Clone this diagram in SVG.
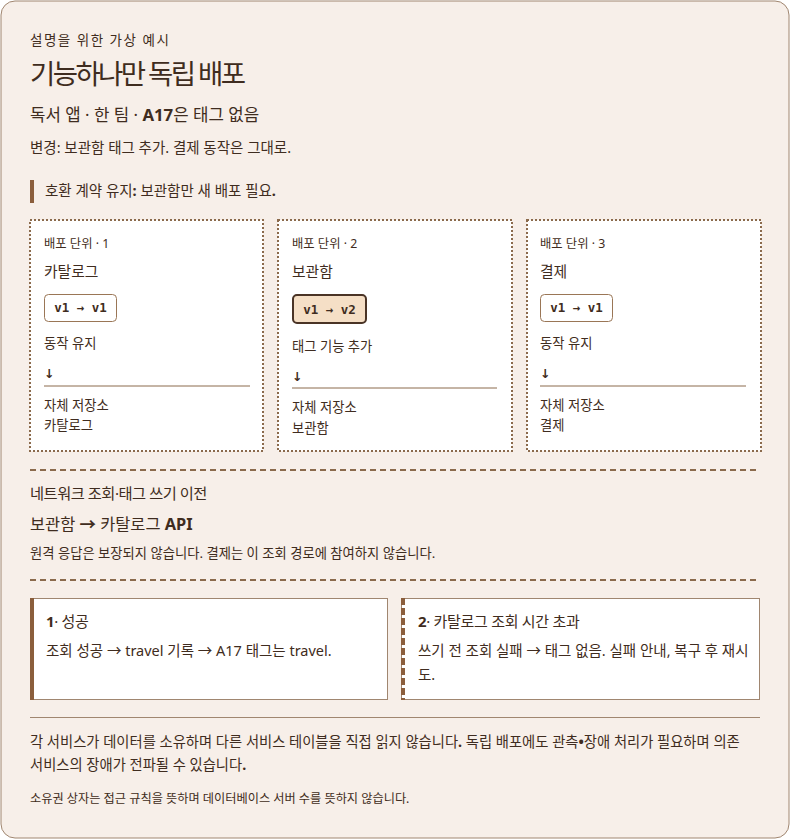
<svg xmlns="http://www.w3.org/2000/svg" width="790" height="839" viewBox="0 0 790 839">
<style>
text{font-family:"Noto Sans","Noto Sans CJK KR",sans-serif;fill:#3f2c20}
.mono{font-family:"DejaVu Sans Mono","Liberation Mono",monospace;font-weight:bold;font-size:12.5px;fill:#3f2c20}
.card{fill:#ffffff;stroke:#8b6a4c;stroke-width:2;stroke-dasharray:2 2}
.badge{fill:#ffffff;stroke:#9a7656;stroke-width:1}
.badgeHot{fill:#f5dfc6;stroke:#4a3426;stroke-width:2}
.rule{stroke:#8b6a4c;stroke-width:1}
.dash{stroke:#8b6a4c;stroke-width:2;stroke-dasharray:6 4;fill:none}
.lbl{font-size:12.3px}
.body{font-size:13.3px}
.mid{font-size:14.5px}
.b{font-weight:bold}
.arr{font-family:"DejaVu Sans",sans-serif;font-size:12.5px;font-weight:bold}
</style>
<rect x="1" y="1" width="788" height="837" rx="14" fill="#f7efe9" stroke="#a08670" stroke-width="1"/>

<g id="header">
<text x="30" y="45" font-size="13.5" letter-spacing="1.5">설명을 위한 가상 예시</text>
<text x="30" y="84" font-size="27.5" letter-spacing="-2.6" fill="#3a281d">기능하나만 독립 배포</text>
<text x="30" y="121" font-size="16.8">독서 앱 · 한 팀 · <tspan class="b">A17</tspan>은 태그 없음</text>
<text x="30" y="153" class="mid">변경: 보관함 태그 추가. 결제 동작은 그대로.</text>
</g>

<g id="callout">
<rect x="30" y="180" width="4" height="23" fill="#8b5e3c"/>
<text x="45" y="196" class="mid">호환 계약 유지<tspan class="b">:</tspan> 보관함만 새 배포 필요<tspan class="b">.</tspan></text>
</g>

<g id="unit1">
<rect class="card" x="30" y="220" width="233" height="231"/>
<text x="44" y="248" class="lbl">배포 단위 · 1</text>
<text x="44" y="277" font-size="14.8">카탈로그</text>
<rect class="badge" x="44.5" y="294.5" width="72" height="27" rx="4"/>
<text x="80.5" y="312" class="mono" text-anchor="middle">v1 → v1</text>
<text x="44" y="348" class="body">동작 유지</text>
<text x="44" y="378" class="arr">↓</text>
<line class="rule" x1="44" y1="386" x2="250" y2="386"/>
<text x="44" y="410" class="body">자체 저장소</text>
<text x="44" y="430" class="body">카탈로그</text>
</g>

<g id="unit2">
<rect class="card" x="278" y="220" width="234" height="231"/>
<text x="292" y="248" class="lbl">배포 단위 · 2</text>
<text x="292" y="277" font-size="14.8">보관함</text>
<rect class="badgeHot" x="293" y="295" width="73" height="28" rx="4"/>
<text x="329.5" y="314" class="mono" text-anchor="middle">v1 → v2</text>
<text x="292" y="351" class="body">태그 기능 추가</text>
<text x="292" y="381" class="arr">↓</text>
<line class="rule" x1="292" y1="388" x2="497" y2="388"/>
<text x="292" y="412" class="body">자체 저장소</text>
<text x="292" y="433" class="body">보관함</text>
</g>

<g id="unit3">
<rect class="card" x="527" y="220" width="234" height="231"/>
<text x="540" y="248" class="lbl">배포 단위 · 3</text>
<text x="540" y="277" font-size="14.8">결제</text>
<rect class="badge" x="540.5" y="294.5" width="72" height="27" rx="4"/>
<text x="576.5" y="312" class="mono" text-anchor="middle">v1 → v1</text>
<text x="540" y="348" class="body">동작 유지</text>
<text x="540" y="378" class="arr">↓</text>
<line class="rule" x1="540" y1="386" x2="746" y2="386"/>
<text x="540" y="410" class="body">자체 저장소</text>
<text x="540" y="430" class="body">결제</text>
</g>

<g id="connectors">
<line class="dash" x1="30" y1="470" x2="760" y2="470"/>
<line class="dash" x1="30" y1="580" x2="760" y2="580"/>
</g>

<g id="network">
<text x="30" y="499" font-size="15.3" letter-spacing="-0.5">네트워크 조회·태그 쓰기 이전</text>
<text x="30" y="530" font-size="16.4">보관함 <tspan class="b">→</tspan> 카탈로그 <tspan class="b">API</tspan></text>
<text x="30" y="558" class="body">원격 응답은 보장되지 않습니다. 결제는 이 조회 경로에 참여하지 않습니다.</text>
</g>

<g id="outcome1">
<rect x="30.5" y="598.5" width="357" height="101" fill="#ffffff" stroke="#a08670" stroke-width="1"/>
<rect x="30" y="598" width="4" height="102" fill="#8b5e3c"/>
<text x="46" y="627" font-size="15" letter-spacing="-0.3"><tspan class="b">1</tspan>· 성공</text>
<text x="46" y="656" class="mid">조회 성공 → travel 기록 → A17 태그는 travel.</text>
</g>

<g id="outcome2">
<rect x="401.5" y="598.5" width="358" height="101" fill="#ffffff" stroke="#a08670" stroke-width="1"/>
<line x1="403" y1="598" x2="403" y2="700" stroke="#8b5e3c" stroke-width="4" stroke-dasharray="7 3"/>
<text x="418" y="627" font-size="15" letter-spacing="-0.3"><tspan class="b">2</tspan>· 카탈로그 조회 시간 초과</text>
<text x="418" y="656" class="mid">쓰기 전 조회 실패 → 태그 없음. 실패 안내, 복구 후 재시</text>
<text x="418" y="680" class="mid">도.</text>
</g>

<g id="footer">
<line x1="30" y1="717.5" x2="760" y2="717.5" stroke="#a08670" stroke-width="1"/>
<text x="30" y="747" font-size="14.3">각 서비스가 데이터를 소유하며 다른 서비스 테이블을 직접 읽지 않습니다<tspan class="b">.</tspan> 독립 배포에도 관측<tspan class="b">•</tspan>장애 처리가 필요하며 의존</text>
<text x="30" y="770" font-size="14.3">서비스의 장애가 전파될 수 있습니다<tspan class="b">.</tspan></text>
<text x="30" y="803" font-size="12.2">소유권 상자는 접근 규칙을 뜻하며 데이터베이스 서버 수를 뜻하지 않습니다.</text>
</g>
</svg>
